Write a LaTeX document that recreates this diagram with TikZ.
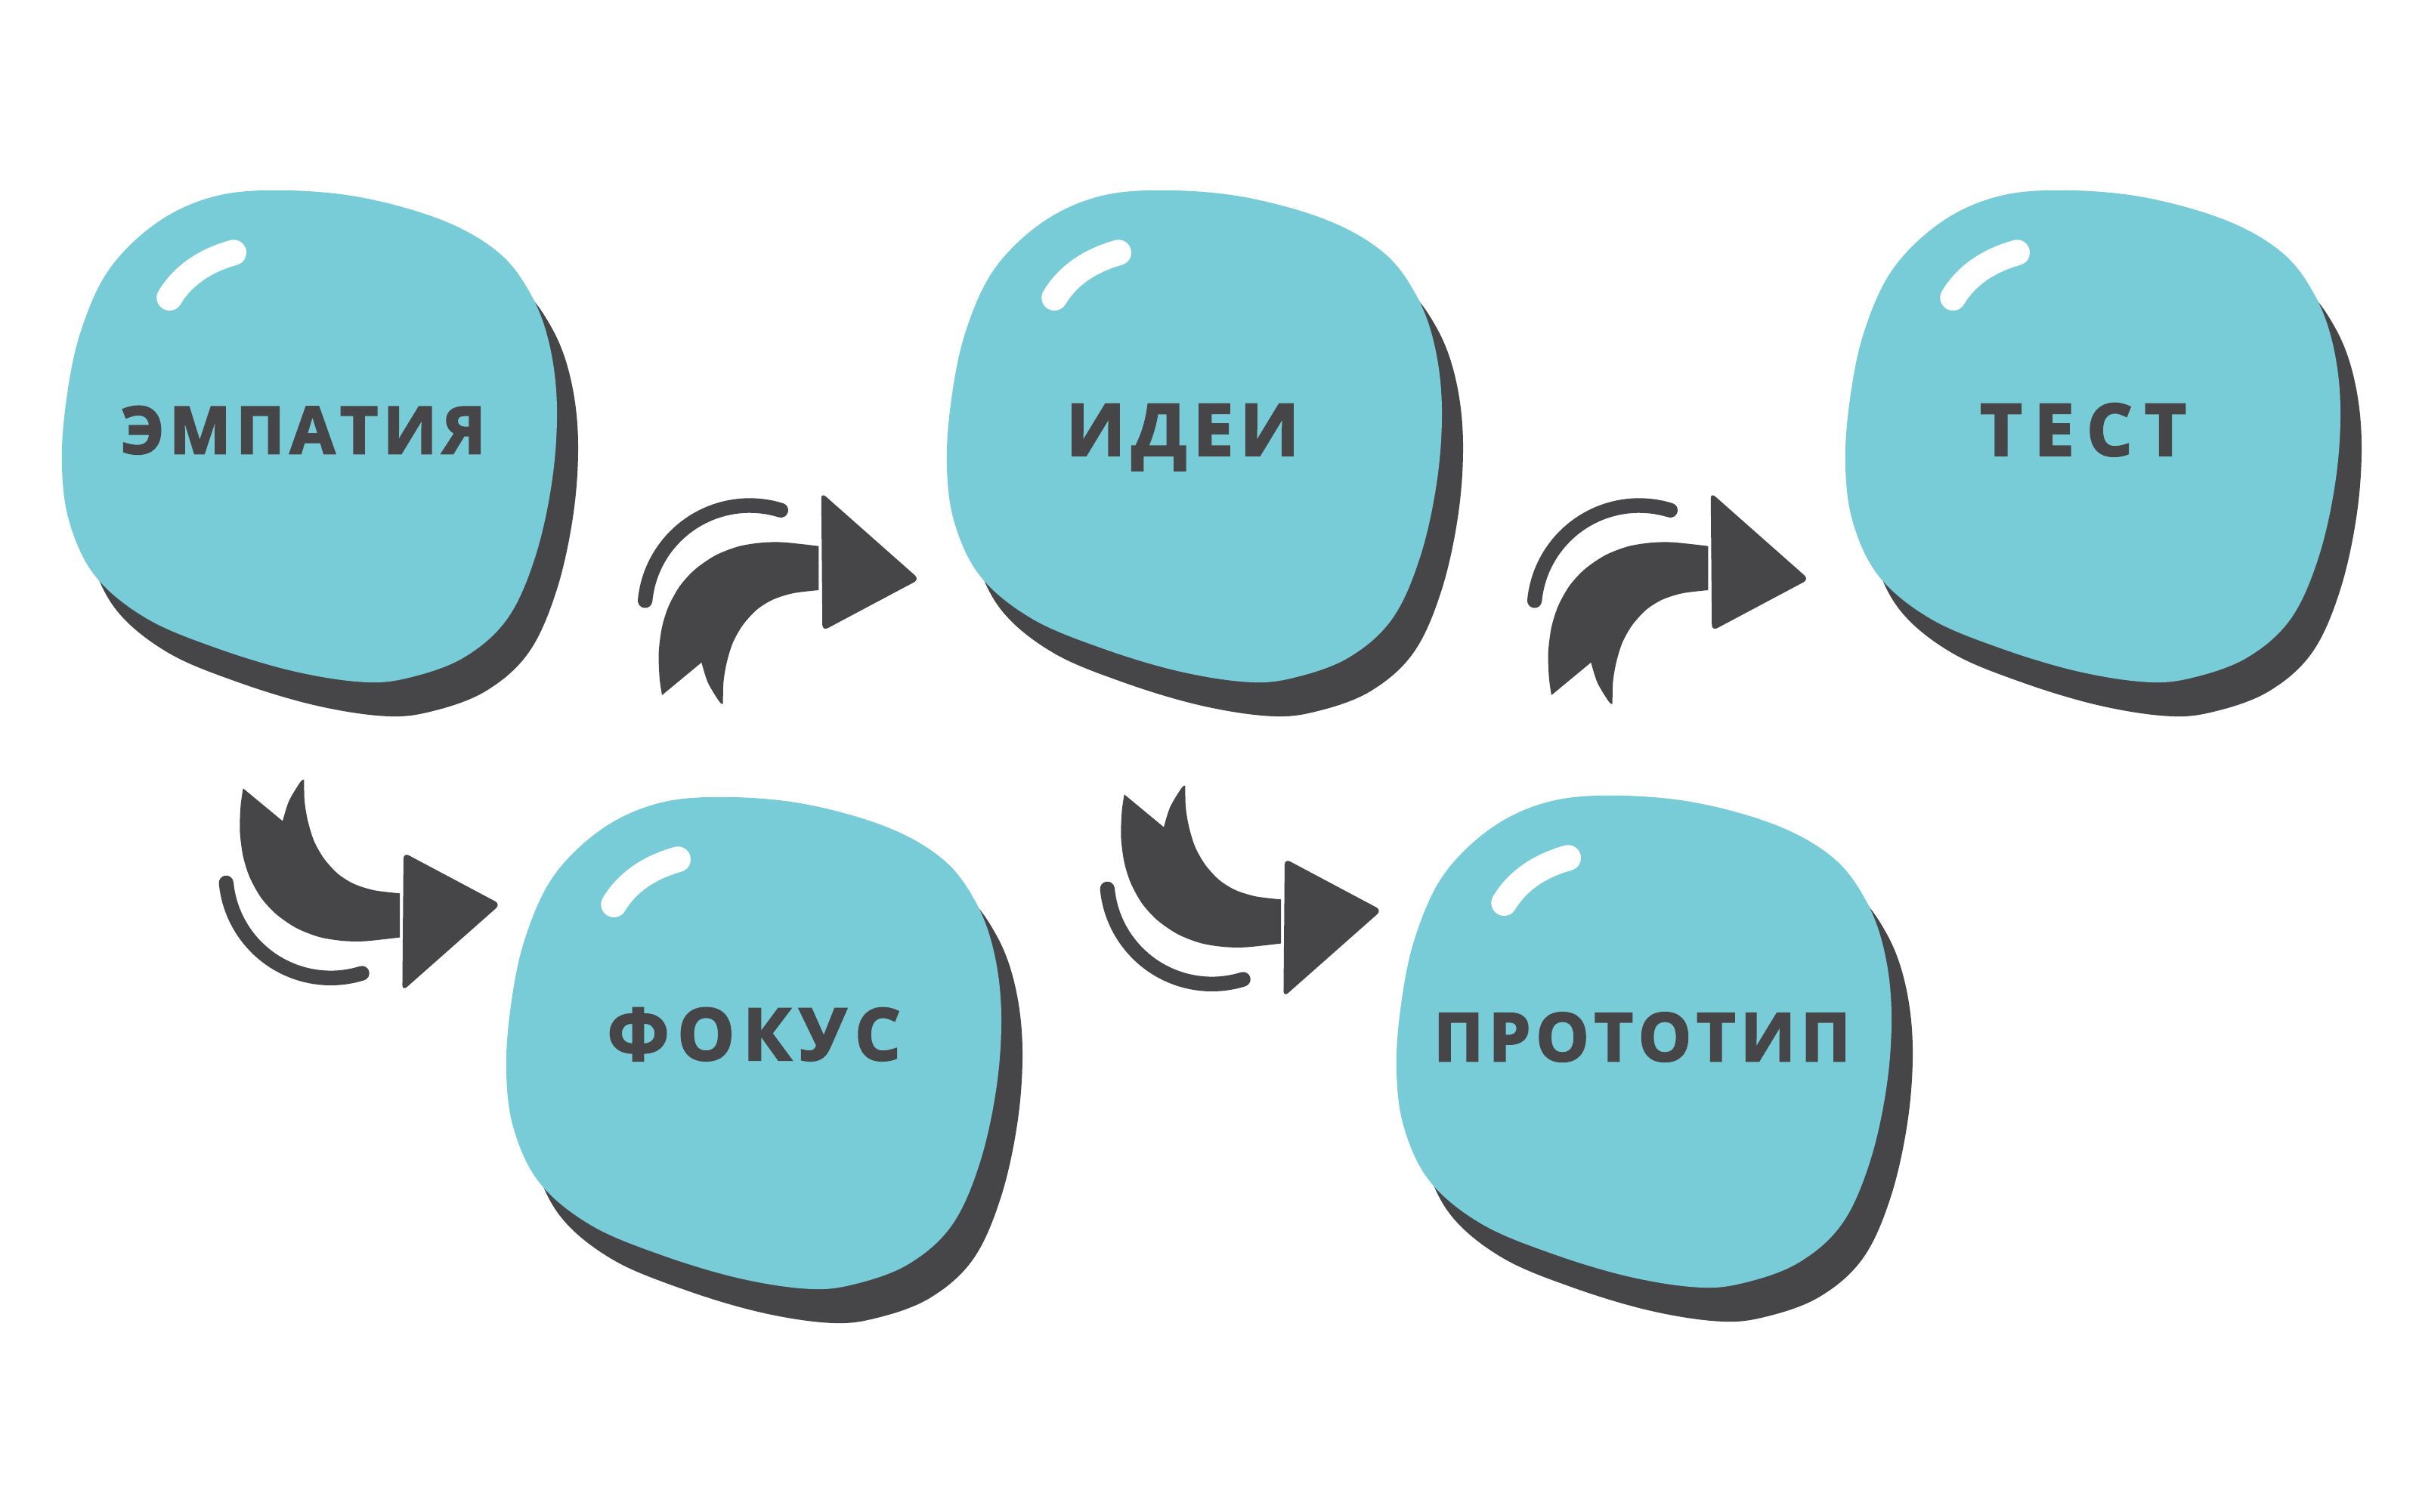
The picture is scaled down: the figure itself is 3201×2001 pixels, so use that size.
\documentclass[tikz,border=0pt]{standalone}
\usepackage{fontspec}
\IfFontExistsTF{Open Sans ExtraBold}
  {\newfontfamily\lblfam{Open Sans ExtraBold}[FakeBold=1]}
  {\newfontfamily\lblfam{Open Sans Bold}[FakeBold=3]}
\definecolor{blobcyan}{HTML}{78CCD7}
\definecolor{ink}{HTML}{464649}
\tikzset{
  shine/.style={draw=white, line width=17pt, line cap=round},
  swoosh/.style={draw=ink, line width=9.7pt, line cap=round},
  steptext/.style={text=ink, inner sep=0pt, anchor=base},
  blob/.pic={
    \fill[ink, shift={(28,45)}] plot[smooth cycle, tension=0.6] coordinates {(358.2,251.8) (470.8,260.0) (583.4,290.7) (659.1,333.7) (702.1,388.9) (726.7,454.4) (736.9,536.3) (730.8,634.6) (708.3,736.9) (671.4,818.8) (614.1,870.0) (542.5,896.6) (481.0,902.7) (388.9,888.4) (286.6,857.7) (194.5,818.8) (126.9,763.5) (92.1,691.9) (81.9,614.1) (88.0,528.1) (106.4,440.1) (143.3,358.2) (204.7,296.8) (276.3,262.0)};
    \fill[blobcyan] plot[smooth cycle, tension=0.6] coordinates {(358.2,251.8) (470.8,260.0) (583.4,290.7) (659.1,333.7) (702.1,388.9) (726.7,454.4) (736.9,536.3) (730.8,634.6) (708.3,736.9) (671.4,818.8) (614.1,870.0) (542.5,896.6) (481.0,902.7) (388.9,888.4) (286.6,857.7) (194.5,818.8) (126.9,763.5) (92.1,691.9) (81.9,614.1) (88.0,528.1) (106.4,440.1) (143.3,358.2) (204.7,296.8) (276.3,262.0)};
    \draw[shine] (224.3,394) .. controls (241.8,364.9) and (270.6,345.0) .. (309,334.3);
  }
}
\newcommand\drawturnarrow{%
  \fill[ink] (1083.3,722.7) -- plot[smooth] coordinates {(1083.3,722.7) (1036.7,717.7) (1006.7,718.3) (976.7,723.3) (946.7,735) (920,753.3) (900,775) (885,801.7) (876,830) (871.7,863.3) (872.7,896.7) (876,920)} -- (928.3,876.7) -- plot[smooth] coordinates {(928.3,876.7) (936.7,903.3) (951.7,928.3) (956.7,931.7)} -- plot[smooth] coordinates {(956.7,931.7) (957.3,903.3) (961.7,876.7) (970,850) (983.3,826.7) (1001.7,806.7) (1023.3,793.3) (1050,785) (1083.3,781)} -- cycle;
  \fill[ink, rounded corners=4pt] (1086.7,651.7) -- (1216.7,766.7) -- (1088.3,835) -- cycle;
  \draw[swoosh] plot[domain=72.7:174.6, samples=40] ({992+139*cos(\x)},{808-139*sin(\x)});
}
\begin{document}
\begin{tikzpicture}[x=0.5pt, y=-0.5pt]
  \fill[white] (0,0) rectangle (3201,2001);
  \useasboundingbox (0,0) rectangle (3201,2001);
  % blobs
  \pic at (0,0) {blob};
  \pic at (1171,0) {blob};
  \pic at (2360,0) {blob};
  \pic at (588,803) {blob};
  \pic at (1766,801) {blob};
  % arrows
  \begin{scope}
    \drawturnarrow
  \end{scope}
  \begin{scope}[shift={(1177,0)}]
    \drawturnarrow
  \end{scope}
  \begin{scope}[shift={(-554.3,1963.3)}, yscale=-1]
    \drawturnarrow
  \end{scope}
  \begin{scope}[shift={(611.7,1971.3)}, yscale=-1]
    \drawturnarrow
  \end{scope}
  % labels
  \node[steptext, font=\lblfam\fontsize{43pt}{43pt}\selectfont] (empathy) at (401.3,600) {Э\kern3.6pt М\kern3.6pt П\kern3.6pt А\kern3.6pt Т\kern3.6pt И\kern3.6pt Я};
  \node[steptext, font=\lblfam\fontsize{47.4pt}{47.4pt}\selectfont] (ideas) at (1565,602.7) {И\kern4.4pt Д\kern4.4pt Е\kern4.4pt И};
  \node[steptext, font=\lblfam\fontsize{47.4pt}{47.4pt}\selectfont] (test) at (2756.8,602.7) {Т\kern8.2pt Е\kern8.2pt С\kern8.2pt Т};
  \node[steptext, font=\lblfam\fontsize{47.4pt}{47.4pt}\selectfont] (focus) at (997.7,1402.7) {Ф\kern5.6pt О\kern5.6pt К\kern5.6pt У\kern5.6pt С};
  \node[steptext, font=\lblfam\fontsize{44pt}{44pt}\selectfont] (proto) at (2173,1404) {П\kern3.6pt Р\kern3.6pt О\kern3.6pt Т\kern3.6pt О\kern3.6pt Т\kern3.6pt И\kern3.6pt П};
\end{tikzpicture}
\end{document}
